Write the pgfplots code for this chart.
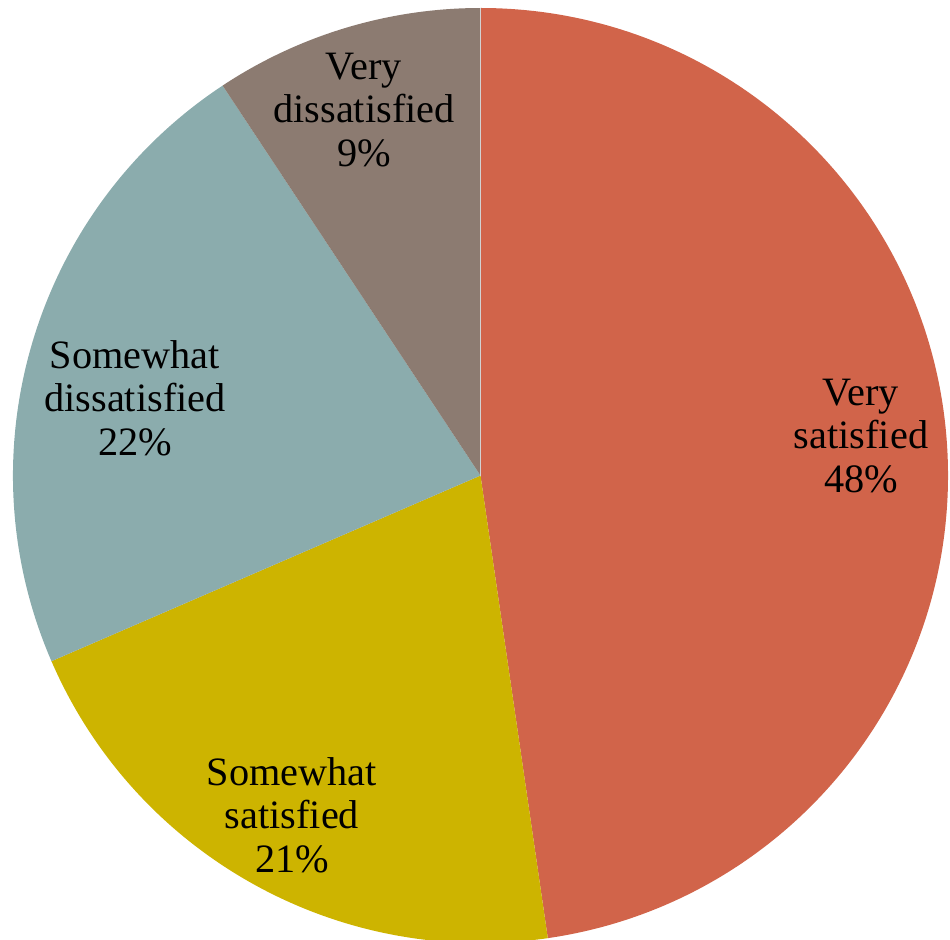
\documentclass[border=0pt]{standalone}
\usepackage{fontspec}
\setmainfont{Liberation Serif}
\usepackage{pgfplots}
\pgfplotsset{compat=1.18}

\definecolor{vsat}{HTML}{D1644A}
\definecolor{ssat}{HTML}{CDB400}
\definecolor{sdis}{HTML}{8BACAD}
\definecolor{vdis}{HTML}{8C7B71}

\begin{document}
\begin{tikzpicture}
\begin{axis}[
    hide axis,
    scale only axis,
    width=342pt, height=338.04pt,
    xmin=0, xmax=950, ymin=0, ymax=939,
    clip=true,
]
% slices clockwise from the top, in percent
\pgfplotsextra{
  \gdef\startang{90}
  \foreach \p/\c in {47.7/vsat, 20.8/ssat, 22.2/sdis, 9.3/vdis}{
    \pgfmathsetmacro\endang{\startang-3.6*\p}
    \fill[\c] (axis cs:480.5,463.5) -- ++(\startang:168.3pt)
      arc[start angle=\startang, end angle=\endang, radius=168.3pt] -- cycle;
    \xdef\startang{\endang}
  }
  \draw[line width=0.45pt, gray!35] (axis cs:480.5,463.5) -- ++(90:168.3pt);
}
\begin{scope}[every node/.style={align=center, font=\fontsize{14.5}{15.6}\selectfont}]
\node at (axis cs:861,503) {Very\\satisfied\\48\%};
\node at (axis cs:292,124) {Somewhat\\satisfied\\21\%};
\node at (axis cs:135,541) {Somewhat\\dissatisfied\\22\%};
\node at (axis cs:364,829) {Very\\dissatisfied\\9\%};
\end{scope}
\end{axis}
\pgfresetboundingbox
\path (current axis.south west) rectangle (current axis.north east);
\end{tikzpicture}
\end{document}
